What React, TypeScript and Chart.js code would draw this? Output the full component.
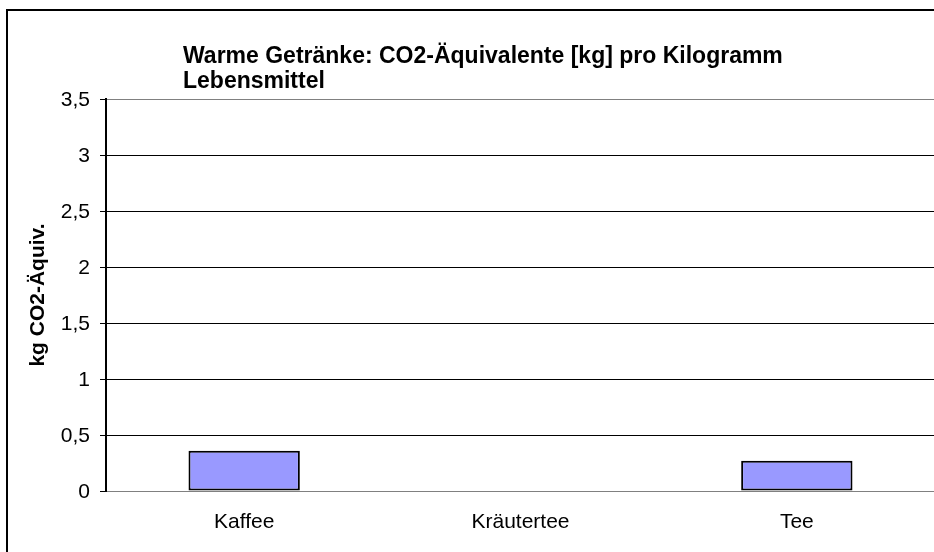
import React, { useEffect, useRef } from "react";
import { Chart, registerables } from "chart.js";

Chart.register(...registerables);

// ---- data ----
const categories = ["Kaffee", "Kräutertee", "Tee"];
const co2Values = [0.36, 0, 0.27];
const yTickValues = [0, 0.5, 1, 1.5, 2, 2.5, 3, 3.5];
const titleLines = ["Warme Getränke: CO2-Äquivalente [kg] pro Kilogramm", "Lebensmittel"];
const yAxisTitle = "kg CO2-Äquiv.";

const FONT = '"Liberation Sans", Arial, Helvetica, sans-serif';

const framePlugin = {
  id: "frame",
  beforeDraw(chart: any) {
    const { ctx } = chart;
    ctx.save();
    ctx.fillStyle = "#ffffff";
    ctx.fillRect(0, 0, chart.width, chart.height);
    ctx.restore();
  },
  afterDraw(chart: any) {
    const { ctx, chartArea } = chart;
    ctx.save();
    ctx.strokeStyle = "#000000";
    ctx.lineWidth = 2;
    ctx.strokeRect(7, 10, chart.width + 40, chart.height + 40);
    ctx.fillStyle = "#000000";
    ctx.font = `bold 23px ${FONT}`;
    ctx.textAlign = "left";
    ctx.textBaseline = "alphabetic";
    titleLines.forEach((line, i) => {
      ctx.fillText(line, chartArea.left + 77, chartArea.top - 36 + i * 25);
    });
    ctx.restore();
  },
};

export default function App() {
  const canvasRef = useRef<HTMLCanvasElement | null>(null);

  useEffect(() => {
    document.body.style.margin = "0";
    const canvas = canvasRef.current;
    if (!canvas) return;
    const yMin = yTickValues[0];
    const yMax = yTickValues[yTickValues.length - 1];
    const yStep = yTickValues[1] - yTickValues[0];

    const chart = new Chart(canvas, {
      type: "bar",
      data: {
        labels: categories,
        datasets: [
          {
            label: "CO2",
            data: co2Values,
            backgroundColor: "#9999FF",
            borderColor: "#000000",
            borderWidth: 2,
            borderSkipped: false,
            barPercentage: 0.403,
            categoryPercentage: 1,
          },
        ],
      },
      options: {
        responsive: false,
        animation: false,
        devicePixelRatio: 1,
        layout: { padding: { top: 99, left: 0, right: 0, bottom: 0 } },
        plugins: {
          legend: { display: false },
          title: { display: false },
          tooltip: { enabled: false },
        },
        scales: {
          x: {
            grid: { display: false, drawTicks: false },
            border: { display: true, color: "#808080", width: 1 },
            ticks: {
              color: "#000000",
              padding: 19,
              font: { family: FONT, size: 21 },
            },
            afterFit(scale: any) {
              scale.height = 61;
            },
          },
          y: {
            min: yMin,
            max: yMax,
            ticks: {
              stepSize: yStep,
              color: "#000000",
              padding: 10,
              labelOffset: 1,
              font: { family: FONT, size: 21 },
              callback: (v: any) => String(v).replace(".", ","),
            },
            grid: {
              color: (c: any) =>
                c.tick && (c.tick.value === yMin || c.tick.value === yMax) ? "#808080" : "#000000",
              tickColor: "#000000",
              tickLength: 6,
              lineWidth: 1,
            },
            border: { display: true, color: "#000000", width: 2 },
            title: {
              display: true,
              text: yAxisTitle,
              color: "#000000",
              font: { family: FONT, size: 21, weight: "bold" },
              padding: { top: 26, bottom: 0 },
            },
            afterFit(scale: any) {
              scale.width = 106;
            },
          },
        },
      },
      plugins: [framePlugin],
    });
    return () => chart.destroy();
  }, []);

  return (
    <div
      style={{
        position: "fixed",
        left: 0,
        top: 0,
        width: 934,
        height: 552,
        overflow: "hidden",
        background: "#fff",
      }}
    >
      <canvas ref={canvasRef} width={935} height={552} style={{ display: "block" }} />
    </div>
  );
}
